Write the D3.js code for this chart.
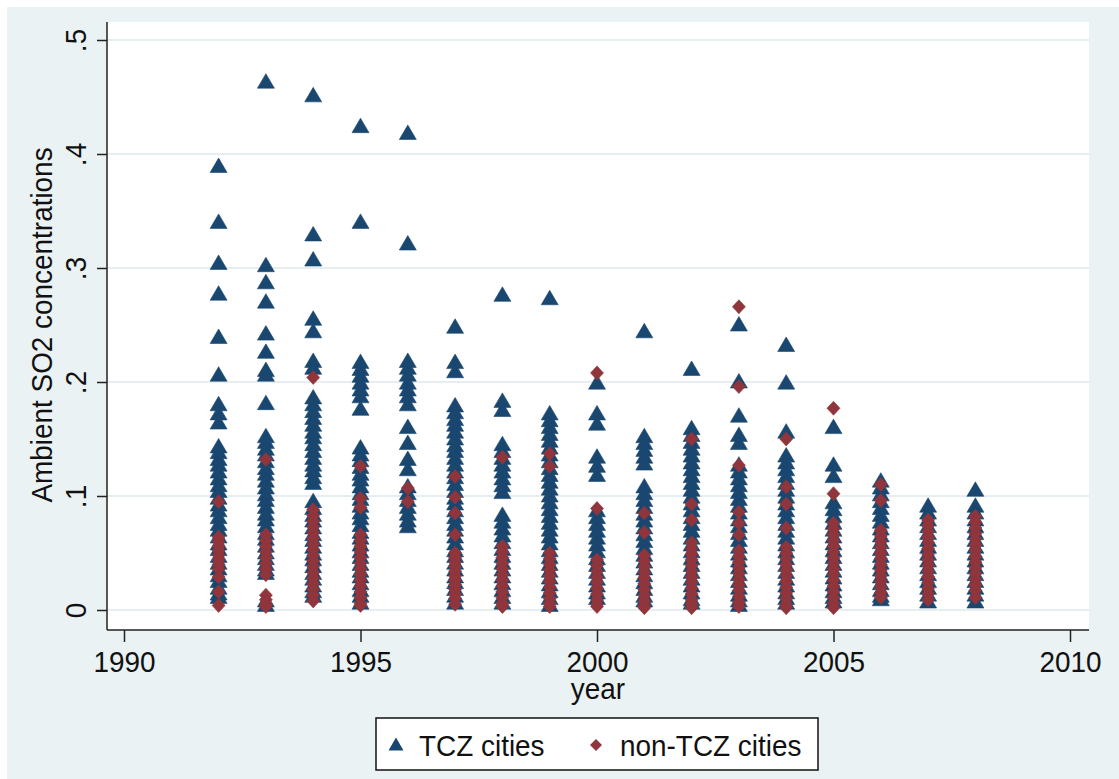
<!DOCTYPE html>
<html>
<head>
<meta charset="utf-8">
<script src="https://cdn.jsdelivr.net/npm/d3@7"></script>
<style>
  html, body { margin: 0; padding: 0; background: #ffffff; }
  svg { display: block; }
  text { font-family: "Liberation Sans", Arial, sans-serif; fill: #111; }
</style>
</head>
<body>
<svg id="chart" width="1119" height="779"></svg>
<script>
// ---------------- DATA ----------------
const years = [1992, 1993, 1994, 1995, 1996, 1997, 1998, 1999, 2000, 2001, 2002, 2003, 2004, 2005, 2006, 2007, 2008];

const tczByYear = [
  [0.389, 0.340, 0.304, 0.277, 0.239, 0.206, 0.180, 0.172, 0.164, 0.143, 0.138, 0.132, 0.127, 0.121, 0.115, 0.109, 0.104, 0.098, 0.092, 0.087, 0.081, 0.075, 0.070, 0.064, 0.058, 0.053, 0.047, 0.041, 0.036, 0.030, 0.025, 0.019, 0.014, 0.011],
  [0.463, 0.302, 0.287, 0.270, 0.242, 0.226, 0.210, 0.206, 0.181, 0.152, 0.147, 0.141, 0.136, 0.130, 0.124, 0.119, 0.113, 0.107, 0.101, 0.096, 0.090, 0.084, 0.079, 0.073, 0.067, 0.062, 0.056, 0.050, 0.045, 0.040, 0.035, 0.032, 0.008, 0.004],
  [0.451, 0.329, 0.307, 0.255, 0.244, 0.218, 0.212, 0.186, 0.180, 0.174, 0.168, 0.162, 0.156, 0.151, 0.145, 0.139, 0.133, 0.127, 0.122, 0.116, 0.111, 0.095, 0.089, 0.083, 0.078, 0.072, 0.066, 0.061, 0.055, 0.049, 0.044, 0.038, 0.032, 0.027, 0.021, 0.016, 0.012],
  [0.424, 0.340, 0.217, 0.211, 0.205, 0.199, 0.193, 0.187, 0.176, 0.142, 0.136, 0.131, 0.125, 0.119, 0.114, 0.108, 0.102, 0.097, 0.091, 0.085, 0.080, 0.074, 0.068, 0.063, 0.057, 0.051, 0.046, 0.040, 0.034, 0.029, 0.023, 0.017, 0.012, 0.006],
  [0.418, 0.321, 0.218, 0.212, 0.206, 0.199, 0.193, 0.187, 0.180, 0.160, 0.146, 0.132, 0.123, 0.108, 0.102, 0.096, 0.090, 0.084, 0.078, 0.073],
  [0.248, 0.217, 0.209, 0.179, 0.173, 0.167, 0.162, 0.156, 0.150, 0.144, 0.139, 0.133, 0.127, 0.121, 0.116, 0.110, 0.104, 0.098, 0.093, 0.087, 0.081, 0.075, 0.070, 0.064, 0.058, 0.052, 0.047, 0.041, 0.035, 0.029, 0.024, 0.018, 0.012, 0.006],
  [0.276, 0.183, 0.175, 0.145, 0.139, 0.133, 0.127, 0.121, 0.115, 0.109, 0.103, 0.083, 0.077, 0.071, 0.065, 0.059, 0.053, 0.047, 0.041, 0.035, 0.029, 0.023, 0.017, 0.011, 0.006],
  [0.273, 0.172, 0.166, 0.160, 0.154, 0.148, 0.142, 0.136, 0.130, 0.124, 0.118, 0.112, 0.106, 0.100, 0.094, 0.088, 0.082, 0.076, 0.070, 0.064, 0.058, 0.052, 0.046, 0.040, 0.034, 0.028, 0.022, 0.016, 0.010, 0.004],
  [0.199, 0.172, 0.163, 0.134, 0.126, 0.118, 0.087, 0.081, 0.075, 0.069, 0.063, 0.057, 0.051, 0.045, 0.039, 0.033, 0.027, 0.021, 0.015, 0.010],
  [0.244, 0.152, 0.146, 0.140, 0.134, 0.128, 0.108, 0.102, 0.096, 0.090, 0.084, 0.078, 0.072, 0.066, 0.060, 0.054, 0.048, 0.042, 0.036, 0.030, 0.024, 0.018, 0.012, 0.008],
  [0.211, 0.159, 0.153, 0.147, 0.141, 0.135, 0.129, 0.123, 0.117, 0.111, 0.105, 0.099, 0.093, 0.087, 0.081, 0.075, 0.069, 0.063, 0.057, 0.051, 0.045, 0.039, 0.033, 0.027, 0.021, 0.015, 0.009, 0.006],
  [0.250, 0.200, 0.170, 0.153, 0.146, 0.127, 0.121, 0.115, 0.109, 0.103, 0.097, 0.091, 0.085, 0.079, 0.073, 0.067, 0.061, 0.055, 0.049, 0.043, 0.037, 0.031, 0.025, 0.019, 0.013, 0.008, 0.004],
  [0.232, 0.199, 0.156, 0.135, 0.129, 0.123, 0.117, 0.111, 0.105, 0.099, 0.093, 0.087, 0.081, 0.075, 0.069, 0.063, 0.057, 0.051, 0.045, 0.039, 0.033, 0.027, 0.021, 0.015, 0.010, 0.006],
  [0.160, 0.127, 0.117, 0.094, 0.088, 0.082, 0.076, 0.070, 0.064, 0.058, 0.052, 0.046, 0.040, 0.034, 0.028, 0.022, 0.016, 0.011, 0.007],
  [0.113, 0.107, 0.101, 0.095, 0.089, 0.083, 0.077, 0.071, 0.065, 0.059, 0.053, 0.047, 0.041, 0.035, 0.029, 0.023, 0.017, 0.012, 0.009],
  [0.091, 0.085, 0.079, 0.073, 0.067, 0.061, 0.055, 0.049, 0.043, 0.037, 0.031, 0.025, 0.019, 0.013, 0.007],
  [0.105, 0.091, 0.085, 0.079, 0.073, 0.067, 0.061, 0.055, 0.049, 0.043, 0.037, 0.031, 0.025, 0.019, 0.013, 0.007]
];

const nonTczByYear = [
  [0.095, 0.064, 0.060, 0.056, 0.052, 0.048, 0.044, 0.040, 0.036, 0.029, 0.016, 0.004],
  [0.132, 0.066, 0.061, 0.056, 0.051, 0.046, 0.041, 0.036, 0.031, 0.013, 0.009, 0.005, 0.003],
  [0.204, 0.088, 0.083, 0.078, 0.073, 0.068, 0.063, 0.058, 0.053, 0.048, 0.043, 0.038, 0.033, 0.028, 0.023, 0.018, 0.013, 0.008],
  [0.126, 0.098, 0.090, 0.066, 0.061, 0.056, 0.051, 0.046, 0.041, 0.036, 0.031, 0.026, 0.021, 0.016, 0.011, 0.006, 0.004],
  [0.107, 0.095],
  [0.117, 0.099, 0.085, 0.066, 0.050, 0.046, 0.042, 0.038, 0.034, 0.030, 0.026, 0.022, 0.018, 0.014, 0.010, 0.005],
  [0.134, 0.056, 0.051, 0.046, 0.041, 0.036, 0.031, 0.026, 0.021, 0.016, 0.011, 0.006, 0.003],
  [0.137, 0.126, 0.050, 0.045, 0.040, 0.035, 0.030, 0.025, 0.020, 0.015, 0.010, 0.006, 0.003],
  [0.208, 0.089, 0.044, 0.039, 0.034, 0.029, 0.024, 0.019, 0.014, 0.009, 0.005, 0.003],
  [0.085, 0.068, 0.048, 0.043, 0.038, 0.033, 0.028, 0.023, 0.018, 0.013, 0.008, 0.004, 0.002],
  [0.150, 0.093, 0.079, 0.059, 0.054, 0.049, 0.044, 0.039, 0.034, 0.029, 0.024, 0.019, 0.014, 0.009, 0.005, 0.002],
  [0.266, 0.196, 0.127, 0.086, 0.076, 0.066, 0.052, 0.047, 0.042, 0.037, 0.032, 0.027, 0.022, 0.017, 0.012, 0.007, 0.003],
  [0.150, 0.108, 0.093, 0.072, 0.055, 0.050, 0.045, 0.040, 0.035, 0.030, 0.025, 0.020, 0.015, 0.010, 0.005, 0.002],
  [0.177, 0.102, 0.076, 0.071, 0.066, 0.061, 0.056, 0.051, 0.046, 0.041, 0.036, 0.031, 0.026, 0.021, 0.016, 0.011, 0.006, 0.002],
  [0.110, 0.096, 0.070, 0.065, 0.060, 0.055, 0.050, 0.045, 0.040, 0.035, 0.030, 0.025, 0.020, 0.015, 0.011],
  [0.079, 0.074, 0.069, 0.064, 0.059, 0.054, 0.049, 0.044, 0.039, 0.034, 0.029, 0.024, 0.019, 0.014, 0.009],
  [0.082, 0.077, 0.072, 0.067, 0.062, 0.057, 0.052, 0.047, 0.042, 0.037, 0.032, 0.027, 0.022, 0.017, 0.011]
];

const xTicks = [1990, 1995, 2000, 2005, 2010];
const yTicks = [0, 0.1, 0.2, 0.3, 0.4, 0.5];
const yTickLabels = ["0", ".1", ".2", ".3", ".4", ".5"];
const seriesNames = ["TCZ cities", "non-TCZ cities"];
const xTitle = "year";
const yTitle = "Ambient SO2 concentrations";

// ---------------- STYLE / LAYOUT ----------------
const W = 1119, H = 779;
const bgColor = "#eaf2f3";
const navy = "#1a476f";
const maroon = "#90353b";
const plot = { left: 107, right: 1089, top: 22, bottom: 630 };
const fontSize = 30;
const squeeze = 0.93;

const svg = d3.select("#chart");

function squeezeText(sel) {
  sel.each(function () {
    const len = this.getComputedTextLength();
    if (len > 0) {
      d3.select(this).attr("textLength", len * squeeze).attr("lengthAdjust", "spacingAndGlyphs");
    }
  });
}

// Graph region background
svg.append("rect").attr("x", 7).attr("y", 7).attr("width", W - 7).attr("height", H - 7).attr("fill", bgColor);
// Plot region
svg.append("rect")
  .attr("x", plot.left).attr("y", plot.top)
  .attr("width", plot.right - plot.left).attr("height", plot.bottom - plot.top)
  .attr("fill", "#ffffff");

const x = d3.scaleLinear().domain([1990, 2010]).range([124, 1070]);
const y = d3.scaleLinear().domain([0, 0.5]).range([610, 40]);

// Gridlines
svg.append("g").selectAll("line").data(yTicks).join("line")
  .attr("x1", plot.left).attr("x2", plot.right)
  .attr("y1", d => y(d)).attr("y2", d => y(d))
  .attr("stroke", "#e6eef1").attr("stroke-width", 2);

// Markers
const triPath = "M0,-8.5L8.5,6L-8.5,6Z";
const diaPath = "M0,-7L6.5,0L0,7L-6.5,0Z";

const tczPts = [];
years.forEach((yr, i) => tczByYear[i].forEach(v => tczPts.push({ yr, v })));
const nonPts = [];
years.forEach((yr, i) => nonTczByYear[i].forEach(v => nonPts.push({ yr, v })));

svg.append("g").selectAll("path").data(tczPts).join("path")
  .attr("d", triPath)
  .attr("transform", d => `translate(${x(d.yr)},${y(d.v)})`)
  .attr("fill", navy).attr("stroke", navy).attr("stroke-width", 0.6);

svg.append("g").selectAll("path").data(nonPts).join("path")
  .attr("d", diaPath)
  .attr("transform", d => `translate(${x(d.yr)},${y(d.v)})`)
  .attr("fill", maroon).attr("stroke", maroon).attr("stroke-width", 0.6);

// X axis
const xAxisG = svg.append("g").attr("transform", `translate(0,${plot.bottom})`)
  .call(d3.axisBottom(x).tickValues(xTicks).tickFormat(d3.format("d")).tickSize(12).tickSizeOuter(0).tickPadding(14));
xAxisG.select(".domain").remove();
xAxisG.selectAll(".tick line").attr("stroke", "#222").attr("stroke-width", 1.5);
xAxisG.selectAll(".tick text")
  .attr("font-size", fontSize).attr("font-family", "Liberation Sans, Arial, sans-serif")
  .attr("fill", "#111").attr("dy", 0).attr("y", 42)
  .call(squeezeText);

// Y axis
const yAxisG = svg.append("g").attr("transform", `translate(${plot.left},0)`)
  .call(d3.axisLeft(y).tickValues(yTicks).tickFormat((d, i) => yTickLabels[i]).tickSize(10).tickSizeOuter(0));
yAxisG.select(".domain").remove();
yAxisG.selectAll(".tick line").attr("stroke", "#222").attr("stroke-width", 1.5);
yAxisG.selectAll(".tick text")
  .attr("font-size", fontSize).attr("font-family", "Liberation Sans, Arial, sans-serif")
  .attr("fill", "#111")
  .attr("x", null).attr("dy", 0)
  .attr("text-anchor", "middle")
  .attr("transform", "translate(-21,0) rotate(-90)")
  .call(squeezeText);

// Axis lines
svg.append("line").attr("x1", plot.left).attr("x2", plot.left).attr("y1", plot.top).attr("y2", plot.bottom)
  .attr("stroke", "#222").attr("stroke-width", 1.5);
svg.append("line").attr("x1", plot.left).attr("x2", plot.right).attr("y1", plot.bottom).attr("y2", plot.bottom)
  .attr("stroke", "#222").attr("stroke-width", 1.5);

// Axis titles
svg.append("text").text(xTitle)
  .attr("x", (plot.left + plot.right) / 2).attr("y", 699)
  .attr("text-anchor", "middle").attr("font-size", fontSize)
  .call(squeezeText);

svg.append("text").text(yTitle)
  .attr("transform", `translate(52,325) rotate(-90)`)
  .attr("text-anchor", "middle").attr("font-size", fontSize)
  .call(squeezeText);

// Legend
const lg = svg.append("g");
lg.append("rect").attr("x", 376).attr("y", 718).attr("width", 442).attr("height", 52)
  .attr("fill", "#ffffff").attr("stroke", "#111").attr("stroke-width", 1.5);
lg.append("path").attr("d", "M0,-7.5L7.5,5.5L-7.5,5.5Z").attr("transform", "translate(396,745)").attr("fill", navy);
lg.append("text").text(seriesNames[0]).attr("x", 419).attr("y", 756).attr("font-size", fontSize).call(squeezeText);
lg.append("path").attr("d", "M0,-6L6,0L0,6L-6,0Z").attr("transform", "translate(596,745)").attr("fill", maroon);
lg.append("text").text(seriesNames[1]).attr("x", 620).attr("y", 756).attr("font-size", fontSize).call(squeezeText);
</script>
</body>
</html>
